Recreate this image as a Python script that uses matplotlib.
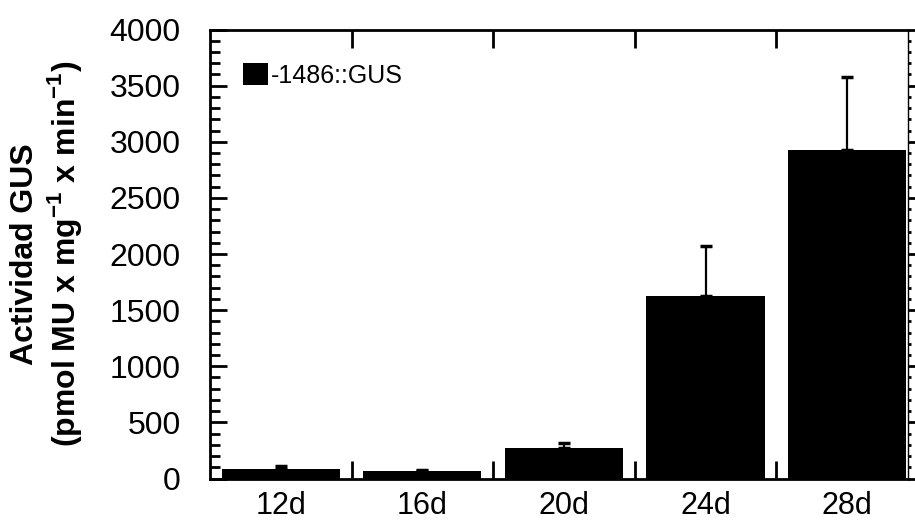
import matplotlib
matplotlib.use("Agg")
import matplotlib.pyplot as plt
from matplotlib.ticker import MultipleLocator, FixedLocator
import numpy as np

plt.rcParams['font.family'] = ['Liberation Sans', 'DejaVu Sans']
plt.rcParams['mathtext.fontset'] = 'custom'
plt.rcParams['mathtext.rm'] = 'Liberation Sans'
plt.rcParams['mathtext.bf'] = 'Liberation Sans:bold'

# data
days = ["12d", "16d", "20d", "24d", "28d"]
gus = [82, 67, 269, 1626, 2926]
gus_err = [29, 8, 45, 445, 651]
legend_label = "-1486::GUS"

fig = plt.figure(figsize=(9.15, 5.24), dpi=100)
ax = fig.add_axes([210 / 915, 1 - 478.5 / 524, (908 - 210) / 915, (478.5 - 29.5) / 524])

x = np.arange(len(days))
ax.bar(x, gus, width=0.835, color='black', edgecolor='none', label=legend_label, zorder=2)
ax.errorbar(x, gus, yerr=[np.zeros(len(gus)), gus_err], fmt='none', ecolor='black',
            elinewidth=1.6, capsize=4.3, capthick=2.5, zorder=3)

ax.set_xlim(-0.5, 4.43)
ax.set_ylim(0, 4000)

# y axis ticks: inward on the left, small outward marks on the right
ax.yaxis.set_major_locator(MultipleLocator(500))
ax.yaxis.set_minor_locator(MultipleLocator(100))
ax.tick_params(axis='y', which='major', direction='in', length=12, width=2, labelsize=23, pad=21)
ax.tick_params(axis='y', which='minor', direction='in', length=7, width=2)
ax.tick_params(axis='y', which='both', right=True)
for t in ax.yaxis.get_major_ticks():
    t.tick2line.set_marker(matplotlib.lines.TICKRIGHT)
    t.tick2line.set_markersize(5)
for t in ax.yaxis.get_minor_ticks():
    t.tick2line.set_marker(matplotlib.lines.TICKRIGHT)
    t.tick2line.set_markersize(2)

# x axis: labels at bar centres, tick marks between bars
ax.set_xticks(x)
ax.set_xticklabels(days)
ax.xaxis.set_minor_locator(FixedLocator(x[:-1] + 0.5))
ax.tick_params(axis='x', which='major', length=0, labelsize=22, pad=9)
ax.tick_params(axis='x', which='minor', direction='in', length=13, width=2, top=True)

for s in ['left', 'top', 'bottom']:
    ax.spines[s].set_linewidth(2)
ax.spines['right'].set_linewidth(1)

ax.set_ylabel("Actividad GUS\n(pmol MU x mg$^{\\mathbf{-1}}$ x min$^{\\mathbf{-1}}$)",
              fontsize=23, fontweight='bold', linespacing=1.15)
ax.yaxis.set_label_coords(-0.181, 0.5)

leg = ax.legend(loc='upper left', bbox_to_anchor=(0.047, 0.925), frameon=False, fontsize=18,
                handlelength=1.0, handleheight=0.95, handletextpad=0.12, borderaxespad=0,
                borderpad=0)

fig.savefig("out.png", dpi=100)
